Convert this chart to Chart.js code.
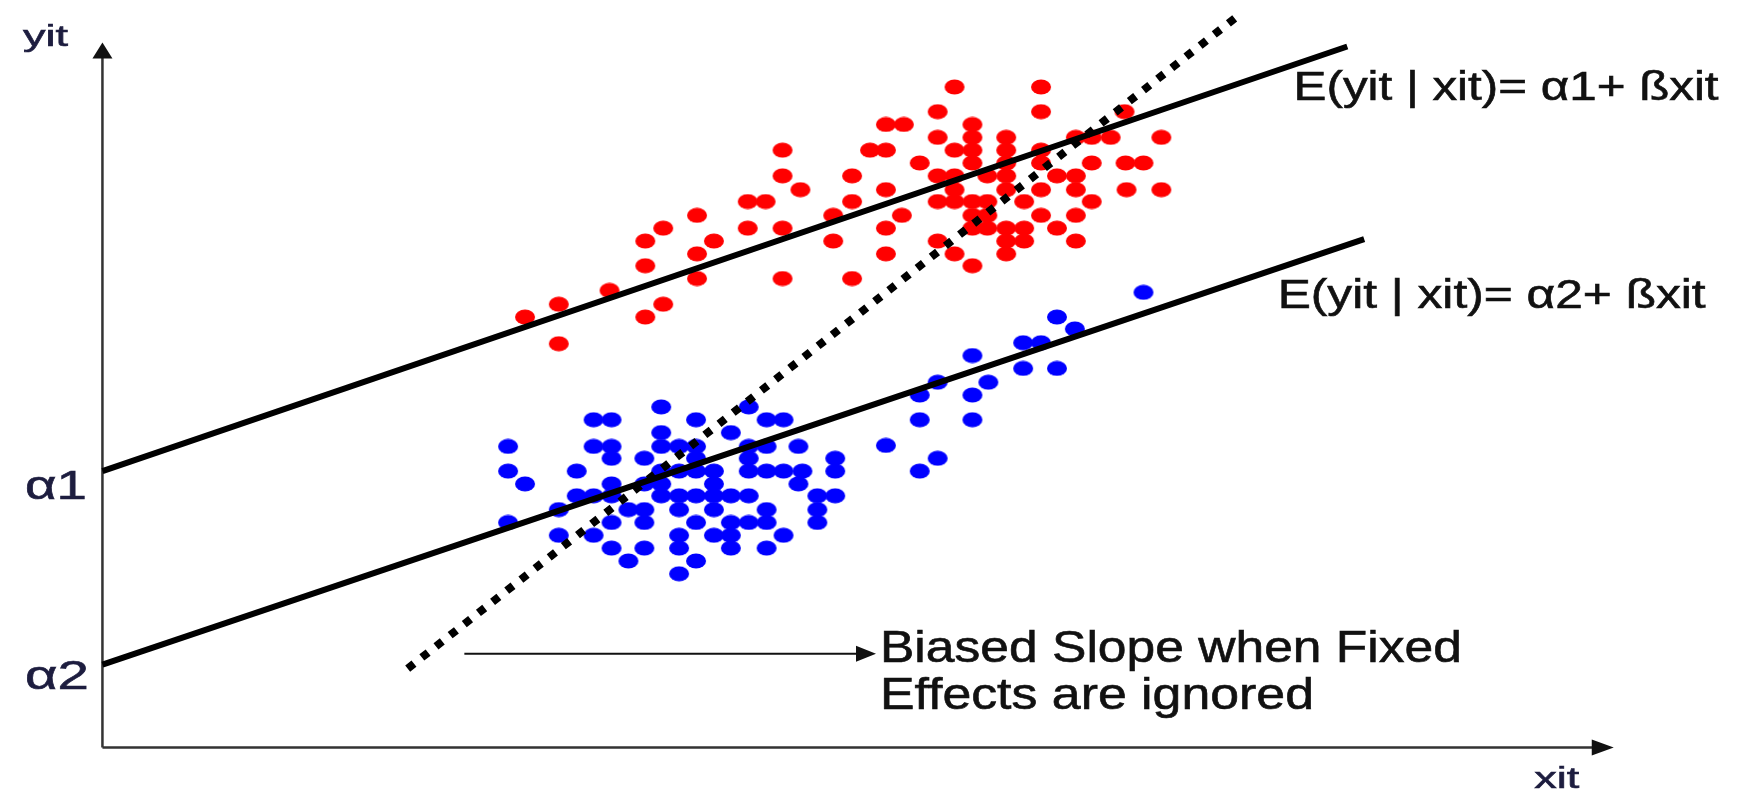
<!DOCTYPE html>
<html>
<head>
<meta charset="utf-8">
<script src="https://cdn.jsdelivr.net/npm/chart.js@4"></script>
<style>
  html, body { margin: 0; padding: 0; background: #fff; }
  #wrap { width: 1746px; height: 799px; position: relative; }
</style>
</head>
<body>
<div id="wrap"><canvas id="fixedEffectsChart"></canvas></div>
<script>
const redPoints = [
  [68.4, 60.5], [68.4, 57.9], [70.2, 56.5], [64.9, 55.3], [66.7, 55.3], [59.8, 53.9],
  [56.4, 52.6], [54.6, 51.3], [61.5, 51.3], [59.8, 50.0], [54.6, 48.8], [59.8, 47.5],
  [64.9, 52.6], [68.4, 52.6], [68.4, 47.5], [73.5, 53.9], [73.5, 51.3], [51.0, 46.3],
  [45.9, 44.9], [56.4, 44.9], [54.6, 43.6], [42.5, 43.6], [45.9, 40.9],
  [85.7, 66.9], [94.4, 66.9], [84.0, 64.4], [94.4, 64.4], [78.8, 63.1], [80.6, 63.1],
  [77.2, 60.5], [78.8, 60.5], [87.5, 63.1], [84.0, 61.8], [87.5, 61.8], [90.9, 61.8],
  [85.7, 60.5], [87.5, 60.5], [90.9, 60.5], [94.4, 60.5], [82.2, 59.2], [87.5, 59.2],
  [90.9, 59.2], [94.4, 59.2], [99.5, 59.2], [102.9, 59.2], [104.7, 59.2], [75.4, 57.9],
  [84.0, 57.9], [85.7, 57.9], [89.0, 57.9], [90.9, 57.9], [96.0, 57.9], [97.9, 57.9],
  [78.8, 56.5], [85.7, 56.5], [90.9, 56.5], [94.4, 56.5], [97.9, 56.5], [103.0, 56.5],
  [106.5, 56.5], [75.4, 55.3], [84.0, 55.3], [85.7, 55.3], [87.5, 55.3], [89.0, 55.3],
  [92.7, 55.3], [99.5, 55.3], [80.4, 53.9], [87.5, 53.9], [89.0, 53.9], [94.4, 53.9],
  [97.9, 53.9], [78.8, 52.6], [87.5, 52.6], [89.0, 52.6], [90.9, 52.6], [92.7, 52.6],
  [96.0, 52.6], [84.0, 51.3], [90.9, 51.3], [92.7, 51.3], [97.9, 51.3], [85.7, 50.0],
  [90.9, 50.0], [78.8, 50.0], [87.5, 48.8], [75.4, 47.5], [102.8, 64.4], [97.9, 61.8],
  [99.5, 61.8], [101.4, 61.8], [106.5, 61.8]
];

// group 2 (blue) observations
const bluePoints = [
  [56.2, 34.5], [65.0, 34.5],
  [49.4, 33.2], [51.2, 33.2], [59.7, 33.2], [66.8, 33.2], [68.5, 33.2],
  [56.2, 31.9], [63.2, 31.9],
  [40.8, 30.5], [49.4, 30.5], [51.2, 30.5], [56.2, 30.5], [58.0, 30.5], [59.7, 30.5],
  [65.0, 30.5], [66.8, 30.5], [70.0, 30.5],
  [51.2, 29.3], [54.5, 29.3], [59.7, 29.3], [65.0, 29.3], [73.7, 29.3],
  [40.8, 28.0], [47.7, 28.0], [56.2, 28.0], [58.0, 28.0], [59.7, 28.0], [61.5, 28.0],
  [65.0, 28.0], [66.8, 28.0], [68.5, 28.0], [70.4, 28.0], [73.7, 28.0],
  [42.5, 26.7], [51.2, 26.7], [54.5, 26.7], [56.2, 26.7], [61.5, 26.7], [70.0, 26.7],
  [47.7, 25.5], [49.4, 25.5], [51.2, 25.5], [56.2, 25.5], [58.0, 25.5], [59.7, 25.5],
  [61.5, 25.5], [63.2, 25.5], [65.0, 25.5], [71.9, 25.5], [73.7, 25.5],
  [45.9, 24.1], [52.9, 24.1], [54.5, 24.1], [58.0, 24.1], [61.5, 24.1], [66.8, 24.1], [71.9, 24.1],
  [40.8, 22.8], [51.2, 22.8], [54.5, 22.8], [59.7, 22.8], [63.2, 22.8], [65.0, 22.8],
  [66.8, 22.8], [71.9, 22.8],
  [45.9, 21.5], [49.4, 21.5], [58.0, 21.5], [61.5, 21.5], [63.2, 21.5], [68.5, 21.5],
  [51.2, 20.2], [54.5, 20.2], [58.0, 20.2], [63.2, 20.2], [66.8, 20.2],
  [52.9, 18.9], [59.7, 18.9], [58.0, 17.6],
  [104.7, 46.1], [96.0, 43.6], [97.8, 42.4], [92.6, 41.0], [94.4, 41.0], [87.5, 39.7],
  [92.6, 38.4], [96.0, 38.4], [84.0, 37.0], [89.1, 37.0], [82.2, 35.7], [87.5, 35.7],
  [82.2, 33.2], [87.5, 33.2], [78.8, 30.6], [84.0, 29.3], [82.2, 28.0]
];

// regression lines
const fitLine1 = [[0, 28.0], [125.2, 71.0]];
const fitLine2 = [[0, 8.4], [126.9, 51.5]];
const biasedLine = [[30.7, 8.0], [114.2, 74.1]];

const toXY = (pts) => pts.map((p) => ({ x: p[0], y: p[1] }));

// the dots in the picture are a bit wider than tall
function ellipseDot(color) {
  const c = document.createElement("canvas");
  c.width = 22;
  c.height = 16;
  const g = c.getContext("2d");
  g.fillStyle = color;
  g.beginPath();
  g.ellipse(11, 8, 10, 7.5, 0, 0, Math.PI * 2);
  g.fill();
  return c;
}

function fitText(ctx, text, x, y, size, width, color) {
  ctx.save();
  ctx.font = size + "px 'Liberation Sans', Arial, sans-serif";
  const w = ctx.measureText(text).width;
  ctx.translate(x, y);
  ctx.scale(width / w, 1);
  ctx.fillStyle = color;
  ctx.strokeStyle = color;
  ctx.lineWidth = 0.6;
  ctx.textBaseline = "alphabetic";
  ctx.fillText(text, 0, 0);
  ctx.strokeText(text, 0, 0);
  ctx.restore();
}

function arrowHead(ctx, tipX, tipY, dirX, dirY, len, half) {
  const bx = tipX - dirX * len;
  const by = tipY - dirY * len;
  ctx.beginPath();
  ctx.moveTo(tipX, tipY);
  ctx.lineTo(bx - dirY * half, by + dirX * half);
  ctx.lineTo(bx + dirY * half, by - dirX * half);
  ctx.closePath();
  ctx.fill();
}

const axesPlugin = {
  id: "arrowAxes",
  beforeDatasetsDraw(chart) {
    const { ctx, scales } = chart;
    const x0 = scales.x.getPixelForValue(0);
    const y0 = scales.y.getPixelForValue(0);
    const yTop = scales.y.getPixelForValue(71.4);
    const xEnd = scales.x.getPixelForValue(152);
    ctx.save();
    ctx.strokeStyle = "#333";
    ctx.fillStyle = "#111";
    ctx.lineWidth = 2.5;
    ctx.beginPath();
    ctx.moveTo(x0, y0);
    ctx.lineTo(x0, yTop + 10);
    ctx.moveTo(x0, y0);
    ctx.lineTo(xEnd - 10, y0);
    ctx.stroke();
    arrowHead(ctx, x0, yTop, 0, -1, 16, 10);
    arrowHead(ctx, xEnd, y0, 1, 0, 22, 8);
    ctx.restore();
  },
  afterDatasetsDraw(chart) {
    const { ctx, scales } = chart;
    const px = (v) => scales.x.getPixelForValue(v);
    const py = (v) => scales.y.getPixelForValue(v);
    const axisInk = "#1d1d3f";
    fitText(ctx, "yit", px(-8.0), py(71.0), 30, 45, axisInk);
    fitText(ctx, "xit", px(144.0), py(-4.1), 30, 45, axisInk);
    fitText(ctx, "α1", px(-7.8), py(25.2), 40, 62, axisInk);
    fitText(ctx, "α2", px(-7.8), py(5.9), 40, 64, axisInk);
    fitText(ctx, "E(yit | xit)= α1+ ßxit", px(119.8), py(65.6), 40, 425, "#111");
    fitText(ctx, "E(yit | xit)= α2+ ßxit", px(118.2), py(44.5), 40, 428, "#111");
    fitText(ctx, "Biased Slope when Fixed", px(78.2), py(8.7), 44, 582, "#111");
    fitText(ctx, "Effects are ignored", px(78.2), py(3.9), 44, 434, "#111");

    // pointer from the dotted line to its caption
    const ay = py(9.5);
    const ax1 = px(36.4);
    const ax2 = px(77.8);
    ctx.save();
    ctx.strokeStyle = "#111";
    ctx.fillStyle = "#111";
    ctx.lineWidth = 2;
    ctx.beginPath();
    ctx.moveTo(ax1, ay);
    ctx.lineTo(ax2 - 12, ay);
    ctx.stroke();
    arrowHead(ctx, ax2, ay, 1, 0, 20, 8);
    ctx.restore();
  },
};

const ctx = document.getElementById("fixedEffectsChart").getContext("2d");
const chart = new Chart(ctx, {
  type: "scatter",
  data: {
    datasets: [
      {
        label: "E(yit | xit)= α1+ ßxit",
        data: toXY(fitLine1),
        showLine: true,
        borderColor: "#000",
        borderWidth: 6,
        pointRadius: 0,
        order: 0,
      },
      {
        label: "E(yit | xit)= α2+ ßxit",
        data: toXY(fitLine2),
        showLine: true,
        borderColor: "#000",
        borderWidth: 6,
        pointRadius: 0,
        order: 0,
      },
      {
        label: "Biased slope",
        data: toXY(biasedLine),
        showLine: true,
        borderColor: "#000",
        borderWidth: 8,
        borderDash: [8, 10],
        borderCapStyle: "butt",
        pointRadius: 0,
        order: 0,
      },
      {
        label: "Group 1",
        data: toXY(redPoints),
        pointStyle: ellipseDot("#ff0000"),
        backgroundColor: "#ff0000",
        order: 1,
      },
      {
        label: "Group 2",
        data: toXY(bluePoints),
        pointStyle: ellipseDot("#0000ff"),
        backgroundColor: "#0000ff",
        order: 1,
      },
    ],
  },
  options: {
    responsive: true,
    maintainAspectRatio: false,
    animation: false,
    layout: { padding: 0 },
    plugins: {
      legend: { display: false },
      tooltip: { enabled: false },
    },
    scales: {
      x: { type: "linear", min: -9.8, max: 164.8, display: false },
      y: { type: "linear", min: -4.7, max: 75.2, display: false },
    },
  },
  plugins: [axesPlugin],
});
</script>
</body>
</html>
